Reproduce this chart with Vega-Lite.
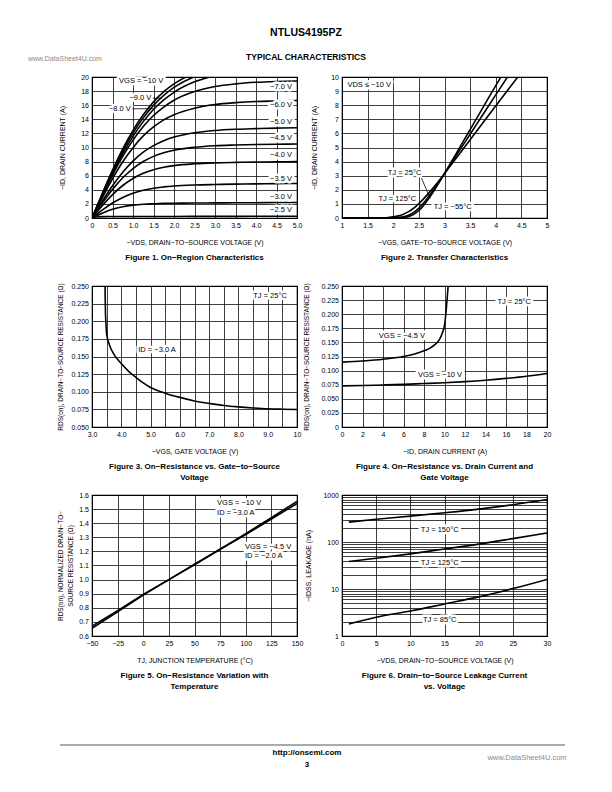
{
  "$schema": "https://vega.github.io/schema/vega-lite/v6.json",
  "autosize": {"type": "pad"},
  "padding": {"left": 28, "top": 8, "right": 0, "bottom": 0},
  "background": "white",
  "config": {
    "font": "Liberation Sans",
    "view": {"stroke": "black", "strokeWidth": 1.2},
    "axis": {"grid": true, "gridColor": "black", "gridWidth": 0.75, "gridOpacity": 1, "domain": false, "ticks": false, "labelFont": "Liberation Sans", "labelFontSize": 7, "labelColor": "black", "labelPadding": 3.5, "labelFlush": false, "labelOverlap": false, "titleFont": "Liberation Sans", "titleFontSize": 7, "titleFontWeight": "normal", "titleColor": "black", "titlePadding": 9.5},
    "title": {"font": "Liberation Sans", "fontSize": 8, "fontWeight": "bold", "color": "black", "orient": "bottom", "anchor": "middle", "offset": 8.5, "lineHeight": 11.5},
    "text": {"font": "Liberation Sans", "fontSize": 7.5}
  },
  "datasets": {
    "f1": [
      {"s": "-2.5", "x": 0, "y": 0}, {"s": "-2.5", "x": 0.1, "y": 0.15}, {"s": "-2.5", "x": 0.25, "y": 0.2}, {"s": "-2.5", "x": 0.5, "y": 0.21}, {"s": "-2.5", "x": 1, "y": 0.22}, {"s": "-2.5", "x": 2, "y": 0.22}, {"s": "-2.5", "x": 3, "y": 0.23}, {"s": "-2.5", "x": 4, "y": 0.24}, {"s": "-2.5", "x": 5, "y": 0.25},
      {"s": "-3.0", "x": 0, "y": 0}, {"s": "-3.0", "x": 0.25, "y": 0.68}, {"s": "-3.0", "x": 0.5, "y": 1.24}, {"s": "-3.0", "x": 0.75, "y": 1.6}, {"s": "-3.0", "x": 1, "y": 1.83}, {"s": "-3.0", "x": 1.25, "y": 1.96}, {"s": "-3.0", "x": 1.5, "y": 2.02}, {"s": "-3.0", "x": 1.75, "y": 2.07}, {"s": "-3.0", "x": 2, "y": 2.09}, {"s": "-3.0", "x": 2.5, "y": 2.13}, {"s": "-3.0", "x": 3, "y": 2.14}, {"s": "-3.0", "x": 3.5, "y": 2.16}, {"s": "-3.0", "x": 4, "y": 2.17}, {"s": "-3.0", "x": 4.5, "y": 2.19}, {"s": "-3.0", "x": 5, "y": 2.2},
      {"s": "-3.5", "x": 0, "y": 0}, {"s": "-3.5", "x": 0.25, "y": 1.12}, {"s": "-3.5", "x": 0.5, "y": 2.12}, {"s": "-3.5", "x": 0.75, "y": 2.92}, {"s": "-3.5", "x": 1, "y": 3.52}, {"s": "-3.5", "x": 1.25, "y": 3.94}, {"s": "-3.5", "x": 1.5, "y": 4.23}, {"s": "-3.5", "x": 1.75, "y": 4.41}, {"s": "-3.5", "x": 2, "y": 4.54}, {"s": "-3.5", "x": 2.5, "y": 4.68}, {"s": "-3.5", "x": 3, "y": 4.75}, {"s": "-3.5", "x": 3.5, "y": 4.8}, {"s": "-3.5", "x": 4, "y": 4.84}, {"s": "-3.5", "x": 4.5, "y": 4.87}, {"s": "-3.5", "x": 5, "y": 4.9},
      {"s": "-4.0", "x": 0, "y": 0}, {"s": "-4.0", "x": 0.25, "y": 1.74}, {"s": "-4.0", "x": 0.5, "y": 3.31}, {"s": "-4.0", "x": 0.75, "y": 4.61}, {"s": "-4.0", "x": 1, "y": 5.61}, {"s": "-4.0", "x": 1.25, "y": 6.34}, {"s": "-4.0", "x": 1.5, "y": 6.85}, {"s": "-4.0", "x": 1.75, "y": 7.19}, {"s": "-4.0", "x": 2, "y": 7.43}, {"s": "-4.0", "x": 2.5, "y": 7.69}, {"s": "-4.0", "x": 3, "y": 7.82}, {"s": "-4.0", "x": 3.5, "y": 7.89}, {"s": "-4.0", "x": 4, "y": 7.94}, {"s": "-4.0", "x": 4.5, "y": 7.97}, {"s": "-4.0", "x": 5, "y": 8.0},
      {"s": "-4.5", "x": 0, "y": 0}, {"s": "-4.5", "x": 0.25, "y": 2.11}, {"s": "-4.5", "x": 0.5, "y": 4.05}, {"s": "-4.5", "x": 0.75, "y": 5.71}, {"s": "-4.5", "x": 1, "y": 7.02}, {"s": "-4.5", "x": 1.25, "y": 8.01}, {"s": "-4.5", "x": 1.5, "y": 8.74}, {"s": "-4.5", "x": 1.75, "y": 9.26}, {"s": "-4.5", "x": 2, "y": 9.62}, {"s": "-4.5", "x": 2.5, "y": 10.03}, {"s": "-4.5", "x": 3, "y": 10.25}, {"s": "-4.5", "x": 3.5, "y": 10.35}, {"s": "-4.5", "x": 4, "y": 10.42}, {"s": "-4.5", "x": 4.5, "y": 10.46}, {"s": "-4.5", "x": 5, "y": 10.5},
      {"s": "-5.0", "x": 0, "y": 0}, {"s": "-5.0", "x": 0.25, "y": 2.37}, {"s": "-5.0", "x": 0.5, "y": 4.57}, {"s": "-5.0", "x": 0.75, "y": 6.49}, {"s": "-5.0", "x": 1, "y": 8.07}, {"s": "-5.0", "x": 1.25, "y": 9.33}, {"s": "-5.0", "x": 1.5, "y": 10.27}, {"s": "-5.0", "x": 1.75, "y": 10.97}, {"s": "-5.0", "x": 2, "y": 11.48}, {"s": "-5.0", "x": 2.5, "y": 12.1}, {"s": "-5.0", "x": 3, "y": 12.42}, {"s": "-5.0", "x": 3.5, "y": 12.59}, {"s": "-5.0", "x": 4, "y": 12.68}, {"s": "-5.0", "x": 4.5, "y": 12.75}, {"s": "-5.0", "x": 5, "y": 12.8},
      {"s": "-6.0", "x": 0, "y": 0}, {"s": "-6.0", "x": 0.25, "y": 2.86}, {"s": "-6.0", "x": 0.5, "y": 5.56}, {"s": "-6.0", "x": 0.75, "y": 7.97}, {"s": "-6.0", "x": 1, "y": 9.98}, {"s": "-6.0", "x": 1.25, "y": 11.64}, {"s": "-6.0", "x": 1.5, "y": 12.91}, {"s": "-6.0", "x": 1.75, "y": 13.92}, {"s": "-6.0", "x": 2, "y": 14.65}, {"s": "-6.0", "x": 2.5, "y": 15.58}, {"s": "-6.0", "x": 3, "y": 16.1}, {"s": "-6.0", "x": 3.5, "y": 16.36}, {"s": "-6.0", "x": 4, "y": 16.52}, {"s": "-6.0", "x": 4.5, "y": 16.6}, {"s": "-6.0", "x": 5, "y": 16.67},
      {"s": "-7.0", "x": 0, "y": 0}, {"s": "-7.0", "x": 0.25, "y": 3.11}, {"s": "-7.0", "x": 0.5, "y": 6.06}, {"s": "-7.0", "x": 0.75, "y": 8.73}, {"s": "-7.0", "x": 1, "y": 11.04}, {"s": "-7.0", "x": 1.25, "y": 12.98}, {"s": "-7.0", "x": 1.5, "y": 14.54}, {"s": "-7.0", "x": 1.75, "y": 15.74}, {"s": "-7.0", "x": 2, "y": 16.7}, {"s": "-7.0", "x": 2.5, "y": 17.93}, {"s": "-7.0", "x": 3, "y": 18.65}, {"s": "-7.0", "x": 3.5, "y": 19.03}, {"s": "-7.0", "x": 4, "y": 19.25}, {"s": "-7.0", "x": 4.5, "y": 19.37}, {"s": "-7.0", "x": 5, "y": 19.44},
      {"s": "-8.0", "x": 0, "y": 0}, {"s": "-8.0", "x": 0.25, "y": 3.22}, {"s": "-8.0", "x": 0.5, "y": 6.31}, {"s": "-8.0", "x": 0.75, "y": 9.12}, {"s": "-8.0", "x": 1, "y": 11.58}, {"s": "-8.0", "x": 1.25, "y": 13.67}, {"s": "-8.0", "x": 1.5, "y": 15.39}, {"s": "-8.0", "x": 1.75, "y": 16.75}, {"s": "-8.0", "x": 2, "y": 17.83}, {"s": "-8.0", "x": 2.5, "y": 19.31}, {"s": "-8.0", "x": 3, "y": 20.16}, {"s": "-8.0", "x": 3.5, "y": 20.6},
      {"s": "-9.0", "x": 0, "y": 0}, {"s": "-9.0", "x": 0.25, "y": 3.35}, {"s": "-9.0", "x": 0.5, "y": 6.55}, {"s": "-9.0", "x": 0.75, "y": 9.47}, {"s": "-9.0", "x": 1, "y": 12.03}, {"s": "-9.0", "x": 1.25, "y": 14.2}, {"s": "-9.0", "x": 1.5, "y": 15.98}, {"s": "-9.0", "x": 1.75, "y": 17.39}, {"s": "-9.0", "x": 2, "y": 18.52}, {"s": "-9.0", "x": 2.5, "y": 20.05}, {"s": "-9.0", "x": 3, "y": 20.9},
      {"s": "-10", "x": 0, "y": 0}, {"s": "-10", "x": 0.25, "y": 3.47}, {"s": "-10", "x": 0.5, "y": 6.78}, {"s": "-10", "x": 0.75, "y": 9.8}, {"s": "-10", "x": 1, "y": 12.44}, {"s": "-10", "x": 1.25, "y": 14.65}, {"s": "-10", "x": 1.5, "y": 16.47}, {"s": "-10", "x": 1.75, "y": 17.92}, {"s": "-10", "x": 2, "y": 19.03}, {"s": "-10", "x": 2.5, "y": 20.58}
    ],
    "t1": [
      {"x": 1.2, "y": 19.4, "t": "VGS = −10 V"}, {"x": 1.18, "y": 17.0, "t": "−9.0 V"}, {"x": 0.68, "y": 15.5, "t": "−8.0 V"},
      {"x": 4.61, "y": 18.6, "t": "−7.0 V"}, {"x": 4.61, "y": 16.0, "t": "−6.0 V"}, {"x": 4.61, "y": 13.6, "t": "−5.0 V"}, {"x": 4.61, "y": 11.4, "t": "−4.5 V"}, {"x": 4.61, "y": 8.9, "t": "−4.0 V"}, {"x": 4.61, "y": 5.6, "t": "−3.5 V"}, {"x": 4.61, "y": 2.95, "t": "−3.0 V"}, {"x": 4.61, "y": 1.1, "t": "−2.5 V"}
    ],
    "r1": [{"x": 1.46, "x2": 1.71, "y": 17.0, "y2": 17.0}, {"x": 0.97, "x2": 1.5, "y": 15.5, "y2": 15.5}],
    "f2": [
      {"s": "125", "x": 1.0, "y": 0}, {"s": "125", "x": 1.6, "y": 0.005}, {"s": "125", "x": 1.8, "y": 0.02}, {"s": "125", "x": 1.9, "y": 0.04}, {"s": "125", "x": 2.0, "y": 0.08}, {"s": "125", "x": 2.1, "y": 0.15}, {"s": "125", "x": 2.2, "y": 0.27}, {"s": "125", "x": 2.3, "y": 0.45}, {"s": "125", "x": 2.4, "y": 0.7}, {"s": "125", "x": 2.5, "y": 1.02}, {"s": "125", "x": 2.6, "y": 1.39}, {"s": "125", "x": 2.7, "y": 1.8}, {"s": "125", "x": 2.8, "y": 2.23}, {"s": "125", "x": 2.9, "y": 2.68}, {"s": "125", "x": 3.0, "y": 3.15}, {"s": "125", "x": 3.25, "y": 4.35}, {"s": "125", "x": 3.5, "y": 5.55}, {"s": "125", "x": 3.75, "y": 6.75}, {"s": "125", "x": 4.0, "y": 7.95}, {"s": "125", "x": 4.25, "y": 9.15}, {"s": "125", "x": 4.43, "y": 10.0},
      {"s": "25", "x": 1.0, "y": 0}, {"s": "25", "x": 1.8, "y": 0.003}, {"s": "25", "x": 2.0, "y": 0.015}, {"s": "25", "x": 2.1, "y": 0.04}, {"s": "25", "x": 2.2, "y": 0.09}, {"s": "25", "x": 2.3, "y": 0.2}, {"s": "25", "x": 2.4, "y": 0.4}, {"s": "25", "x": 2.5, "y": 0.7}, {"s": "25", "x": 2.6, "y": 1.1}, {"s": "25", "x": 2.7, "y": 1.57}, {"s": "25", "x": 2.8, "y": 2.07}, {"s": "25", "x": 2.9, "y": 2.6}, {"s": "25", "x": 3.0, "y": 3.15}, {"s": "25", "x": 3.25, "y": 4.55}, {"s": "25", "x": 3.5, "y": 5.94}, {"s": "25", "x": 3.75, "y": 7.34}, {"s": "25", "x": 4.0, "y": 8.73}, {"s": "25", "x": 4.23, "y": 10.0},
      {"s": "-55", "x": 1.0, "y": 0}, {"s": "-55", "x": 2.0, "y": 0.005}, {"s": "-55", "x": 2.1, "y": 0.015}, {"s": "-55", "x": 2.2, "y": 0.04}, {"s": "-55", "x": 2.3, "y": 0.11}, {"s": "-55", "x": 2.4, "y": 0.26}, {"s": "-55", "x": 2.5, "y": 0.53}, {"s": "-55", "x": 2.6, "y": 0.93}, {"s": "-55", "x": 2.7, "y": 1.42}, {"s": "-55", "x": 2.8, "y": 1.97}, {"s": "-55", "x": 2.9, "y": 2.55}, {"s": "-55", "x": 3.0, "y": 3.15}, {"s": "-55", "x": 3.25, "y": 4.71}, {"s": "-55", "x": 3.5, "y": 6.27}, {"s": "-55", "x": 3.75, "y": 7.83}, {"s": "-55", "x": 4.0, "y": 9.39}, {"s": "-55", "x": 4.1, "y": 10.0}
    ],
    "t2": [
      {"x": 1.53, "y": 9.43, "t": "VDS ≤ −10 V"}, {"x": 2.22, "y": 3.19, "t": "TJ = 25°C"}, {"x": 2.08, "y": 1.35, "t": "TJ = 125°C"}, {"x": 3.16, "y": 0.8, "t": "TJ = −55°C"}
    ],
    "r2": [{"x": 2.55, "x2": 2.72, "y": 2.84, "y2": 1.4}],
    "f3": [
      {"x": 3.44, "y": 0.27}, {"x": 3.45, "y": 0.235}, {"x": 3.46, "y": 0.212}, {"x": 3.48, "y": 0.195}, {"x": 3.5, "y": 0.182}, {"x": 3.6, "y": 0.166}, {"x": 3.75, "y": 0.153}, {"x": 4.0, "y": 0.14}, {"x": 4.25, "y": 0.129}, {"x": 4.5, "y": 0.1205}, {"x": 4.75, "y": 0.1125}, {"x": 5.0, "y": 0.106}, {"x": 5.5, "y": 0.098}, {"x": 6.0, "y": 0.092}, {"x": 6.5, "y": 0.087}, {"x": 7.0, "y": 0.0835}, {"x": 7.5, "y": 0.0805}, {"x": 8.0, "y": 0.0785}, {"x": 8.5, "y": 0.077}, {"x": 9.0, "y": 0.0758}, {"x": 9.5, "y": 0.0752}, {"x": 10, "y": 0.0748}
    ],
    "t3": [{"x": 9.08, "y": 0.236, "t": "TJ = 25°C"}, {"x": 5.22, "y": 0.159, "t": "ID = −3.0 A"}],
    "f4": [
      {"s": "-4.5", "x": 0, "y": 0.115}, {"s": "-4.5", "x": 2, "y": 0.117}, {"s": "-4.5", "x": 4, "y": 0.12}, {"s": "-4.5", "x": 6, "y": 0.125}, {"s": "-4.5", "x": 7, "y": 0.129}, {"s": "-4.5", "x": 8, "y": 0.135}, {"s": "-4.5", "x": 8.5, "y": 0.139}, {"s": "-4.5", "x": 9, "y": 0.145}, {"s": "-4.5", "x": 9.5, "y": 0.155}, {"s": "-4.5", "x": 9.8, "y": 0.167}, {"s": "-4.5", "x": 10, "y": 0.18}, {"s": "-4.5", "x": 10.1, "y": 0.195}, {"s": "-4.5", "x": 10.2, "y": 0.215}, {"s": "-4.5", "x": 10.3, "y": 0.237}, {"s": "-4.5", "x": 10.4, "y": 0.26},
      {"s": "-10", "x": 0, "y": 0.073}, {"s": "-10", "x": 2, "y": 0.0735}, {"s": "-10", "x": 4, "y": 0.0745}, {"s": "-10", "x": 6, "y": 0.0755}, {"s": "-10", "x": 8, "y": 0.077}, {"s": "-10", "x": 10, "y": 0.0785}, {"s": "-10", "x": 12, "y": 0.0805}, {"s": "-10", "x": 14, "y": 0.083}, {"s": "-10", "x": 16, "y": 0.0862}, {"s": "-10", "x": 18, "y": 0.09}, {"s": "-10", "x": 20, "y": 0.095}
    ],
    "t4": [{"x": 16.8, "y": 0.2216, "t": "TJ = 25°C"}, {"x": 5.85, "y": 0.161, "t": "VGS = −4.5 V"}, {"x": 9.56, "y": 0.092, "t": "VGS = −10 V"}],
    "f5": [
      {"s": "-10", "x": -50, "y": 0.67}, {"s": "-10", "x": -25, "y": 0.78}, {"s": "-10", "x": 0, "y": 0.895}, {"s": "-10", "x": 25, "y": 1.0}, {"s": "-10", "x": 50, "y": 1.105}, {"s": "-10", "x": 75, "y": 1.215}, {"s": "-10", "x": 100, "y": 1.325}, {"s": "-10", "x": 125, "y": 1.44}, {"s": "-10", "x": 150, "y": 1.555},
      {"s": "-4.5", "x": -50, "y": 0.655}, {"s": "-4.5", "x": -25, "y": 0.772}, {"s": "-4.5", "x": 0, "y": 0.89}, {"s": "-4.5", "x": 25, "y": 1.0}, {"s": "-4.5", "x": 50, "y": 1.11}, {"s": "-4.5", "x": 75, "y": 1.215}, {"s": "-4.5", "x": 100, "y": 1.32}, {"s": "-4.5", "x": 125, "y": 1.43}, {"s": "-4.5", "x": 150, "y": 1.54}
    ],
    "t5": [{"x": 72, "y": 1.543, "t": "VGS = −10 V"}, {"x": 72, "y": 1.472, "t": "ID = −3.0 A"}, {"x": 99.3, "y": 1.231, "t": "VGS = −4.5 V"}, {"x": 99.3, "y": 1.167, "t": "ID = −2.0 A"}],
    "f6": [
      {"s": "150", "x": 1, "y": 265}, {"s": "150", "x": 5, "y": 305}, {"s": "150", "x": 10, "y": 355}, {"s": "150", "x": 15, "y": 418}, {"s": "150", "x": 20, "y": 500}, {"s": "150", "x": 25, "y": 620}, {"s": "150", "x": 30, "y": 800},
      {"s": "125", "x": 1, "y": 38.5}, {"s": "125", "x": 5, "y": 45}, {"s": "125", "x": 10, "y": 56}, {"s": "125", "x": 15, "y": 71}, {"s": "125", "x": 20, "y": 90}, {"s": "125", "x": 25, "y": 118}, {"s": "125", "x": 30, "y": 156},
      {"s": "85", "x": 1, "y": 1.8}, {"s": "85", "x": 5, "y": 2.5}, {"s": "85", "x": 10, "y": 3.4}, {"s": "85", "x": 15, "y": 4.8}, {"s": "85", "x": 20, "y": 6.8}, {"s": "85", "x": 25, "y": 10.2}, {"s": "85", "x": 30, "y": 16}
    ],
    "t6": [{"x": 14.3, "y": 180, "t": "TJ = 150°C"}, {"x": 14.3, "y": 35.7, "t": "TJ = 125°C"}, {"x": 14.3, "y": 2.19, "t": "TJ = 85°C"}]
  },
  "bounds": "flush",
  "columns": 2,
  "spacing": {"row": 68, "column": 45},
  "concat": [
    {
      "width": 205, "height": 1, "view": {"stroke": null},
      "layer": [
        {"data": {"values": [{"x": 306, "y": 32.5, "t": "NTLUS4195PZ"}]}, "mark": {"type": "text", "fontSize": 10.5, "fontWeight": "bold", "color": "black"},
         "encoding": {"x": {"field": "x", "type": "quantitative", "scale": {"domain": [92, 297], "nice": false, "zero": false}, "axis": null}, "y": {"field": "y", "type": "quantitative", "scale": {"domain": [9, 8], "nice": false, "zero": false}, "axis": null}, "text": {"field": "t"}}},
        {"data": {"values": [{"x": 28, "y": 59, "t": "www.DataSheet4U.com"}]}, "mark": {"type": "text", "fontSize": 7, "align": "left", "color": "#8a8a8a"},
         "encoding": {"x": {"field": "x", "type": "quantitative"}, "y": {"field": "y", "type": "quantitative"}, "text": {"field": "t"}}}
      ]
    },
    {
      "width": 205, "height": 1, "view": {"stroke": null},
      "layer": [
        {"data": {"values": [{"x": 306, "y": 57, "t": "TYPICAL CHARACTERISTICS"}]}, "mark": {"type": "text", "fontSize": 8.5, "fontWeight": "bold", "color": "black"},
         "encoding": {"x": {"field": "x", "type": "quantitative", "scale": {"domain": [342, 547], "nice": false, "zero": false}, "axis": null}, "y": {"field": "y", "type": "quantitative", "scale": {"domain": [9, 8], "nice": false, "zero": false}, "axis": null}, "text": {"field": "t"}}}
      ]
    },
    {
      "width": 205, "height": 141,
      "title": {"text": "Figure 1. On−Region Characteristics"},
      "layer": [
        {"data": {"name": "f1"}, "mark": {"type": "line", "clip": true, "interpolate": "monotone", "color": "black", "strokeWidth": 1.6},
         "encoding": {
           "x": {"field": "x", "type": "quantitative", "scale": {"domain": [0, 5], "nice": false, "zero": false}, "axis": {"title": "−VDS, DRAIN−TO−SOURCE VOLTAGE (V)", "tickCount": 100, "labelOverlap": false, "labelFlush": false, "values": [0, 0.5, 1, 1.5, 2, 2.5, 3, 3.5, 4, 4.5, 5], "labelExpr": "datum.value == 0 ? '0' : format(datum.value, '.1f')"}},
           "y": {"field": "y", "type": "quantitative", "scale": {"domain": [0, 20], "nice": false, "zero": false}, "axis": {"title": "−ID, DRAIN CURRENT (A)", "tickCount": 100, "labelOverlap": false, "values": [0, 2, 4, 6, 8, 10, 12, 14, 16, 18, 20], "format": "d", "titlePadding": 15}},
           "detail": {"field": "s"}}},
        {"data": {"name": "r1"}, "mark": {"type": "rule", "color": "black", "strokeWidth": 0.8},
         "encoding": {"x": {"field": "x", "type": "quantitative"}, "x2": {"field": "x2"}, "y": {"field": "y", "type": "quantitative"}, "y2": {"field": "y2"}}},
        {"data": {"name": "t1"}, "mark": {"type": "text", "stroke": "white", "strokeWidth": 5, "strokeJoin": "round", "fill": "white"},
         "encoding": {"x": {"field": "x", "type": "quantitative"}, "y": {"field": "y", "type": "quantitative"}, "text": {"field": "t"}}},
        {"data": {"name": "t1"}, "mark": {"type": "text", "fill": "black"},
         "encoding": {"x": {"field": "x", "type": "quantitative"}, "y": {"field": "y", "type": "quantitative"}, "text": {"field": "t"}}}
      ]
    },
    {
      "width": 205, "height": 141,
      "title": {"text": "Figure 2. Transfer Characteristics"},
      "layer": [
        {"data": {"name": "f2"}, "mark": {"type": "line", "clip": true, "interpolate": "monotone", "color": "black", "strokeWidth": 1.6},
         "encoding": {
           "x": {"field": "x", "type": "quantitative", "scale": {"domain": [1, 5], "nice": false, "zero": false}, "axis": {"title": "−VGS, GATE−TO−SOURCE VOLTAGE (V)", "tickCount": 100, "labelOverlap": false, "labelFlush": false, "values": [1, 1.5, 2, 2.5, 3, 3.5, 4, 4.5, 5], "labelExpr": "format(datum.value, '.1~f')"}},
           "y": {"field": "y", "type": "quantitative", "scale": {"domain": [0, 10], "nice": false, "zero": false}, "axis": {"title": "−ID, DRAIN CURRENT (A)", "tickCount": 100, "labelOverlap": false, "values": [0, 1, 2, 3, 4, 5, 6, 7, 8, 9, 10], "format": "d", "titlePadding": 13.5}},
           "detail": {"field": "s"}}},
        {"data": {"name": "r2"}, "mark": {"type": "rule", "color": "black", "strokeWidth": 0.8},
         "encoding": {"x": {"field": "x", "type": "quantitative"}, "x2": {"field": "x2"}, "y": {"field": "y", "type": "quantitative"}, "y2": {"field": "y2"}}},
        {"data": {"name": "t2"}, "mark": {"type": "text", "stroke": "white", "strokeWidth": 5, "strokeJoin": "round", "fill": "white"},
         "encoding": {"x": {"field": "x", "type": "quantitative"}, "y": {"field": "y", "type": "quantitative"}, "text": {"field": "t"}}},
        {"data": {"name": "t2"}, "mark": {"type": "text", "fill": "black"},
         "encoding": {"x": {"field": "x", "type": "quantitative"}, "y": {"field": "y", "type": "quantitative"}, "text": {"field": "t"}}}
      ]
    },
    {
      "width": 205, "height": 141,
      "title": {"text": ["Figure 3. On−Resistance vs. Gate−to−Source", "Voltage"]},
      "layer": [
        {"data": {"name": "f3"}, "mark": {"type": "line", "clip": true, "interpolate": "monotone", "color": "black", "strokeWidth": 1.6},
         "encoding": {
           "x": {"field": "x", "type": "quantitative", "scale": {"domain": [3, 10], "nice": false, "zero": false}, "axis": {"title": "−VGS, GATE VOLTAGE (V)", "tickCount": 100, "labelOverlap": false, "labelFlush": false, "values": [3, 3.5, 4, 4.5, 5, 5.5, 6, 6.5, 7, 7.5, 8, 8.5, 9, 9.5, 10], "labelExpr": "datum.value % 1 == 0 ? (datum.value == 10 ? '10' : format(datum.value, '.1f')) : ''"}},
           "y": {"field": "y", "type": "quantitative", "scale": {"domain": [0.05, 0.25], "nice": false, "zero": false}, "axis": {"title": "RDS(on), DRAIN−TO−SOURCE RESISTANCE (Ω)", "tickCount": 100, "labelOverlap": false, "titleFontSize": 6.5, "values": [0.05, 0.075, 0.1, 0.125, 0.15, 0.175, 0.2, 0.225, 0.25], "format": ".3f", "titlePadding": 7.5}}}},
        {"data": {"name": "t3"}, "mark": {"type": "text", "stroke": "white", "strokeWidth": 5, "strokeJoin": "round", "fill": "white"},
         "encoding": {"x": {"field": "x", "type": "quantitative"}, "y": {"field": "y", "type": "quantitative"}, "text": {"field": "t"}}},
        {"data": {"name": "t3"}, "mark": {"type": "text", "fill": "black"},
         "encoding": {"x": {"field": "x", "type": "quantitative"}, "y": {"field": "y", "type": "quantitative"}, "text": {"field": "t"}}}
      ]
    },
    {
      "width": 205, "height": 141,
      "title": {"text": ["Figure 4. On−Resistance vs. Drain Current and", "Gate Voltage"]},
      "layer": [
        {"data": {"name": "f4"}, "mark": {"type": "line", "clip": true, "interpolate": "monotone", "color": "black", "strokeWidth": 1.6},
         "encoding": {
           "x": {"field": "x", "type": "quantitative", "scale": {"domain": [0, 20], "nice": false, "zero": false}, "axis": {"title": "−ID, DRAIN CURRENT (A)", "tickCount": 100, "labelOverlap": false, "labelFlush": false, "values": [0, 2, 4, 6, 8, 10, 12, 14, 16, 18, 20], "format": "d"}},
           "y": {"field": "y", "type": "quantitative", "scale": {"domain": [0, 0.25], "nice": false, "zero": false}, "axis": {"title": "RDS(on), DRAIN−TO−SOURCE RESISTANCE (Ω)", "tickCount": 100, "labelOverlap": false, "titleFontSize": 6.5, "values": [0, 0.025, 0.05, 0.075, 0.1, 0.125, 0.15, 0.175, 0.2, 0.225, 0.25], "labelExpr": "datum.value == 0 ? '0' : format(datum.value, '.3f')", "titlePadding": 11}},
           "detail": {"field": "s"}}},
        {"data": {"name": "t4"}, "mark": {"type": "text", "stroke": "white", "strokeWidth": 5, "strokeJoin": "round", "fill": "white"},
         "encoding": {"x": {"field": "x", "type": "quantitative"}, "y": {"field": "y", "type": "quantitative"}, "text": {"field": "t"}}},
        {"data": {"name": "t4"}, "mark": {"type": "text", "fill": "black"},
         "encoding": {"x": {"field": "x", "type": "quantitative"}, "y": {"field": "y", "type": "quantitative"}, "text": {"field": "t"}}}
      ]
    },
    {
      "width": 205, "height": 141,
      "title": {"text": ["Figure 5. On−Resistance Variation with", "Temperature"]},
      "layer": [
        {"data": {"name": "f5"}, "mark": {"type": "line", "clip": true, "interpolate": "linear", "color": "black", "strokeWidth": 1.6},
         "encoding": {
           "x": {"field": "x", "type": "quantitative", "scale": {"domain": [-50, 150], "nice": false, "zero": false}, "axis": {"title": "TJ, JUNCTION TEMPERATURE (°C)", "tickCount": 100, "labelOverlap": false, "labelFlush": false, "values": [-50, -25, 0, 25, 50, 75, 100, 125, 150], "format": "d"}},
           "y": {"field": "y", "type": "quantitative", "scale": {"domain": [0.6, 1.6], "nice": false, "zero": false}, "axis": {"title": ["RDS(on), NORMALIZED DRAIN−TO−", "SOURCE RESISTANCE (Ω)"], "tickCount": 100, "labelOverlap": false, "titleFontSize": 6.5, "titleLineHeight": 10, "values": [0.6, 0.7, 0.8, 0.9, 1.0, 1.1, 1.2, 1.3, 1.4, 1.5, 1.6], "format": ".1f", "titlePadding": 5}},
           "detail": {"field": "s"}}},
        {"data": {"name": "t5"}, "mark": {"type": "text", "align": "left", "stroke": "white", "strokeWidth": 5, "strokeJoin": "round", "fill": "white"},
         "encoding": {"x": {"field": "x", "type": "quantitative"}, "y": {"field": "y", "type": "quantitative"}, "text": {"field": "t"}}},
        {"data": {"name": "t5"}, "mark": {"type": "text", "align": "left", "fill": "black"},
         "encoding": {"x": {"field": "x", "type": "quantitative"}, "y": {"field": "y", "type": "quantitative"}, "text": {"field": "t"}}}
      ]
    },
    {
      "width": 205, "height": 141,
      "title": {"text": ["Figure 6. Drain−to−Source Leakage Current", "vs. Voltage"]},
      "layer": [
        {"data": {"name": "f6"}, "mark": {"type": "line", "clip": true, "interpolate": "monotone", "color": "black", "strokeWidth": 1.6},
         "encoding": {
           "x": {"field": "x", "type": "quantitative", "scale": {"domain": [0, 30], "nice": false, "zero": false}, "axis": {"title": "−VDS, DRAIN−TO−SOURCE VOLTAGE (V)", "tickCount": 100, "labelOverlap": false, "labelFlush": false, "values": [0, 5, 10, 15, 20, 25, 30], "format": "d"}},
           "y": {"field": "y", "type": "quantitative", "scale": {"type": "log", "domain": [1, 1000], "nice": false}, "axis": {"title": "−IDSS, LEAKAGE (nA)", "labelOverlap": false, "values": [1, 2, 3, 4, 5, 6, 7, 8, 9, 10, 20, 30, 40, 50, 60, 70, 80, 90, 100, 200, 300, 400, 500, 600, 700, 800, 900, 1000], "labelExpr": "(datum.value == 1 || datum.value == 10 || datum.value == 100 || datum.value == 1000) ? format(datum.value, 'd') : ''", "titlePadding": 11}},
           "detail": {"field": "s"}}},
        {"data": {"name": "t6"}, "mark": {"type": "text", "stroke": "white", "strokeWidth": 5, "strokeJoin": "round", "fill": "white"},
         "encoding": {"x": {"field": "x", "type": "quantitative"}, "y": {"field": "y", "type": "quantitative"}, "text": {"field": "t"}}},
        {"data": {"name": "t6"}, "mark": {"type": "text", "fill": "black"},
         "encoding": {"x": {"field": "x", "type": "quantitative"}, "y": {"field": "y", "type": "quantitative"}, "text": {"field": "t"}}}
      ]
    },
    {
      "width": 205, "height": 66, "view": {"stroke": null},
      "layer": [
        {"data": {"values": [{"x": 60, "x2": 565, "y": 745}]}, "mark": {"type": "rule", "color": "#aaaaaa", "strokeWidth": 2},
         "encoding": {"x": {"field": "x", "type": "quantitative", "scale": {"domain": [92, 297], "nice": false, "zero": false}, "axis": null}, "x2": {"field": "x2"}, "y": {"field": "y", "type": "quantitative", "scale": {"domain": [770, 704], "nice": false, "zero": false}, "axis": null}}},
        {"data": {"values": [{"x": 307, "y": 753, "t": "http://onsemi.com"}, {"x": 307, "y": 765, "t": "3"}]}, "mark": {"type": "text", "fontSize": 8, "fontWeight": "bold", "color": "black"},
         "encoding": {"x": {"field": "x", "type": "quantitative"}, "y": {"field": "y", "type": "quantitative"}, "text": {"field": "t"}}},
        {"data": {"values": [{"x": 527, "y": 758, "t": "www.DataSheet4U.com"}]}, "mark": {"type": "text", "fontSize": 7.5, "color": "#8a8a8a"},
         "encoding": {"x": {"field": "x", "type": "quantitative"}, "y": {"field": "y", "type": "quantitative"}, "text": {"field": "t"}}}
      ]
    }
  ]
}
